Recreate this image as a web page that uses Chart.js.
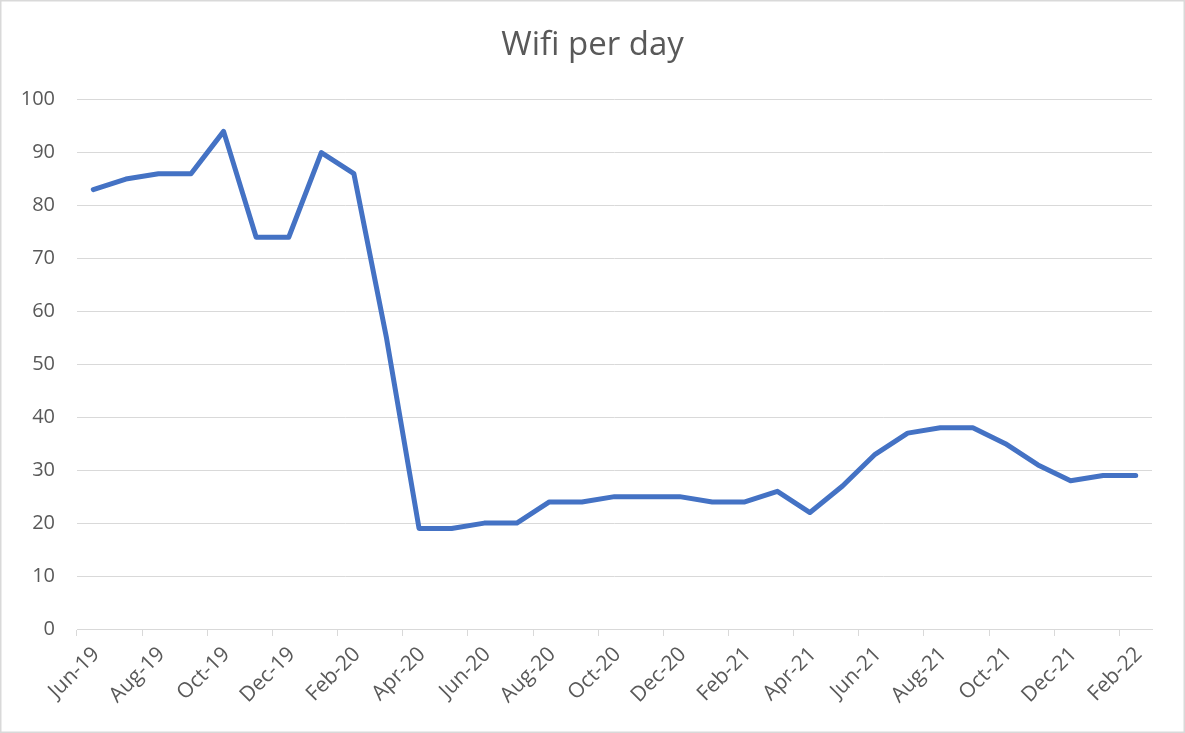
<!DOCTYPE html>
<html>
<head>
<meta charset="utf-8">
<script src="https://cdn.jsdelivr.net/npm/chart.js@4"></script>
<style>
  html, body { margin: 0; padding: 0; background: #fff; }
  #wrap { width: 1185px; height: 733px; position: relative; }
</style>
</head>
<body>
<div id="wrap"><canvas id="chart" width="1185" height="733"></canvas></div>
<script>
// Monthly categories, Jun-19 .. Feb-22
const months = [
    'Jun-19', 'Jul-19', 'Aug-19', 'Sep-19', 'Oct-19', 'Nov-19', 'Dec-19',
    'Jan-20', 'Feb-20', 'Mar-20', 'Apr-20', 'May-20', 'Jun-20', 'Jul-20',
    'Aug-20', 'Sep-20', 'Oct-20', 'Nov-20', 'Dec-20', 'Jan-21', 'Feb-21',
    'Mar-21', 'Apr-21', 'May-21', 'Jun-21', 'Jul-21', 'Aug-21', 'Sep-21',
    'Oct-21', 'Nov-21', 'Dec-21', 'Jan-22', 'Feb-22'
];

const wifiPerDay = [
    83, 85, 86, 86, 94, 74, 74,
    90, 86, 55, 19, 19, 20, 20,
    24, 24, 25, 25, 25, 24, 24,
    26, 22, 27, 33, 37, 38, 38,
    35, 31, 28, 29, 29
];

const textColor = '#595959';
const gridColor = '#d9d9d9';
const fontFamily = '"Open Sans", "Liberation Sans", sans-serif';

// white background + thin frame like the Excel chart area
const framePlugin = {
    id: 'frame',
    beforeDraw(chart) {
        const c = chart.ctx;
        c.save();
        c.fillStyle = '#fff';
        c.fillRect(0, 0, chart.width, chart.height);
        c.restore();
    },
    afterDraw(chart) {
        const c = chart.ctx;
        c.save();
        c.strokeStyle = gridColor;
        c.lineWidth = 1.5;
        c.strokeRect(0.75, 0.75, chart.width - 1.5, chart.height - 1.5);
        c.restore();
    }
};

new Chart(document.getElementById('chart'), {
    type: 'line',
    data: {
        labels: months,
        datasets: [{
            label: 'Wifi per day',
            data: wifiPerDay,
            borderColor: '#4472C4',
            borderWidth: 5,
            borderJoinStyle: 'round',
            borderCapStyle: 'round',
            tension: 0,
            fill: false,
            pointRadius: 0,
        }]
    },
    options: {
        responsive: false,
        animation: false,
        layout: { padding: 0 },
        plugins: {
            legend: { display: false },
            tooltip: { enabled: false },
            title: {
                display: true,
                text: 'Wifi per day',
                color: textColor,
                font: { family: fontFamily, size: 33, weight: 'normal' },
                padding: { top: 26, bottom: 34 }
            }
        },
        scales: {
            x: {
                offset: true,
                grid: {
                    offset: true,
                    drawOnChartArea: false,
                    tickLength: 7,
                    color: (ctx) => ctx.index % 2 === 0 ? gridColor : 'rgba(0,0,0,0)',
                },
                border: { display: true, color: gridColor, width: 1 },
                ticks: {
                    autoSkip: false,
                    maxRotation: 45,
                    minRotation: 45,
                    padding: 6,
                    labelOffset: 3,
                    color: textColor,
                    font: { family: fontFamily, size: 21 },
                    callback: (v, i) => i % 2 === 0 ? months[i] : '',
                },
                afterFit: (scale) => { scale.height = 104; }
            },
            y: {
                min: 0,
                max: 100,
                ticks: {
                    stepSize: 10,
                    padding: 22,
                    color: textColor,
                    font: { family: fontFamily, size: 20 },
                },
                grid: { color: gridColor, drawTicks: false },
                border: { display: false },
                afterFit: (scale) => { scale.width = 77; }
            },
            // empty spacer on the right so the title stays centred on the canvas
            spacer: {
                type: 'linear',
                position: 'right',
                display: true,
                ticks: { display: false },
                grid: { display: false },
                border: { display: false },
                afterFit: (scale) => { scale.width = 33; }
            }
        }
    },
    plugins: [framePlugin]
});
</script>
</body>
</html>
